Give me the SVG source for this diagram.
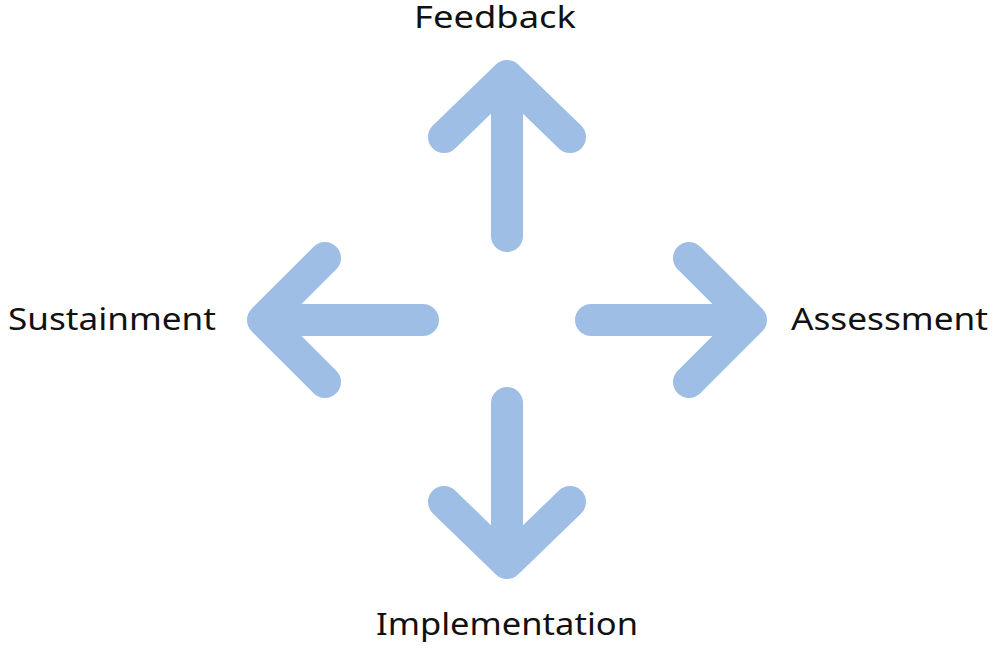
<svg xmlns="http://www.w3.org/2000/svg" width="1000" height="651" viewBox="0 0 1000 651">
<style>
.arr{fill:none;stroke:#9fbee5;stroke-width:32;stroke-linecap:round;stroke-linejoin:round}
.lbl{font-family:"Noto Sans","Open Sans",sans-serif;font-size:31px;fill:#111111}
</style>
<rect width="1000" height="651" fill="#ffffff"/>
<g id="connectors">
<path class="arr" d="M507 236V76M444 137L507 76L570 137"/>
<path class="arr" d="M507 403V563M444 502L507 563L570 502"/>
<path class="arr" d="M423 320H263M325 258L263 320L325 382"/>
<path class="arr" d="M591 320H751M689 258L751 320L689 382"/>
</g>
<g id="feedback"><text class="lbl" x="414" y="28" textLength="162" lengthAdjust="spacingAndGlyphs">Feedback</text></g>
<g id="implementation"><text class="lbl" x="376" y="635" textLength="262" lengthAdjust="spacingAndGlyphs">Implementation</text></g>
<g id="assessment"><text class="lbl" x="791" y="330" textLength="197" lengthAdjust="spacingAndGlyphs">Assessment</text></g>
<g id="sustainment"><text class="lbl" x="8" y="330" textLength="208" lengthAdjust="spacingAndGlyphs">Sustainment</text></g>
</svg>
